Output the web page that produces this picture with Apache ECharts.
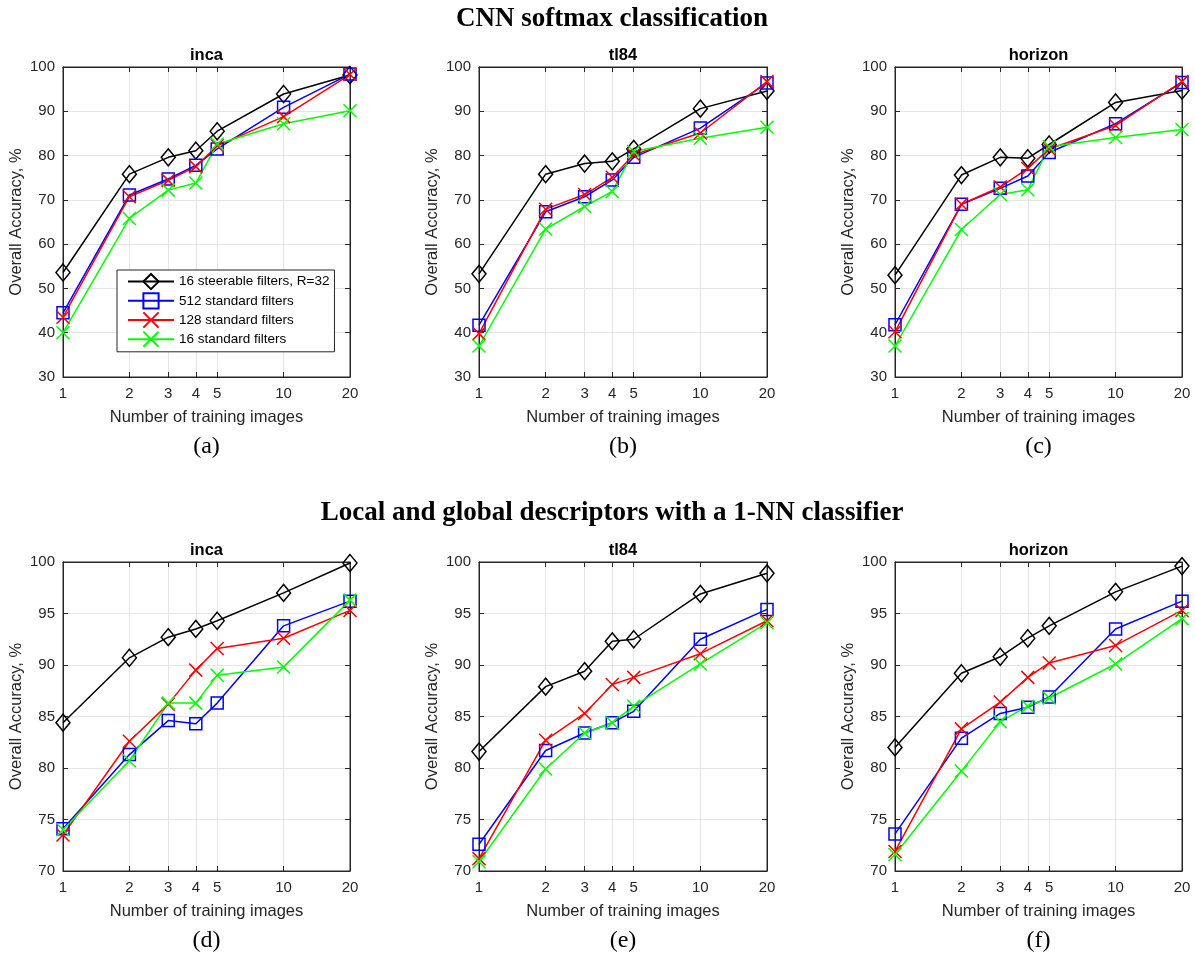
<!DOCTYPE html>
<html>
<head>
<meta charset="utf-8">
<script src="https://cdn.jsdelivr.net/npm/echarts@6/dist/echarts.min.js"></script>
<style>
html,body{margin:0;padding:0;background:#fff}
#main{width:1195px;height:958px}
</style>
</head>
<body>
<div id="main"></div>
<script>
// x axis: number of training images (log scale)
var trainImages = [1, 2, 3, 4, 5, 10, 20];
var seriesNames = ['16 steerable filters, R=32', '512 standard filters', '128 standard filters', '16 standard filters'];
var panelTitles = ['inca', 'tl84', 'horizon', 'inca', 'tl84', 'horizon'];
var panelLetters = ['(a)', '(b)', '(c)', '(d)', '(e)', '(f)'];
var rowTitles = ['CNN softmax classification', 'Local and global descriptors with a 1-NN classifier'];
var topTicks = [30, 100, 10];    // min, max, step
var bottomTicks = [70, 100, 5];

// CNN softmax: [steerable16, std512, std128, std16]
var cnnInca = [
  [53.6, 75.8, 79.6, 81.1, 85.5, 93.9, 98.2],
  [44.5, 71.1, 74.7, 77.8, 81.5, 90.9, 98.4],
  [43.5, 70.7, 74.4, 77.5, 82.2, 88.8, 98.3],
  [40.0, 65.8, 72.2, 73.8, 82.6, 87.2, 90.1]
];
var cnnTl84 = [
  [53.3, 75.8, 78.2, 78.7, 81.5, 90.6, 94.6],
  [41.7, 67.3, 70.7, 74.5, 79.6, 86.2, 96.4],
  [39.8, 67.9, 71.2, 75.1, 80.2, 85.1, 96.7],
  [37.0, 63.4, 68.5, 71.9, 80.9, 83.9, 86.4]
];
var cnnHorizon = [
  [53.0, 75.6, 79.6, 79.4, 82.5, 92.0, 94.7],
  [41.8, 69.0, 72.6, 75.4, 80.7, 87.2, 96.5],
  [40.2, 69.0, 72.9, 77.1, 81.5, 86.8, 96.7],
  [37.0, 63.3, 71.2, 72.3, 82.0, 84.1, 85.9]
];
// 1-NN classifier
var nnInca = [
  [84.4, 90.7, 92.7, 93.5, 94.3, 97.0, 99.9],
  [74.1, 81.3, 84.6, 84.3, 86.3, 93.8, 96.2],
  [73.5, 82.6, 86.2, 89.5, 91.6, 92.6, 95.3],
  [74.0, 80.7, 86.3, 86.3, 89.0, 89.8, 96.3]
];
var nnTl84 = [
  [81.6, 87.9, 89.4, 92.3, 92.5, 96.9, 98.9],
  [72.6, 81.7, 83.4, 84.4, 85.5, 92.5, 95.4],
  [71.2, 82.7, 85.3, 88.1, 88.8, 91.1, 94.3],
  [70.9, 79.9, 83.4, 84.4, 86.0, 90.1, 94.1]
];
var nnHorizon = [
  [82.0, 89.2, 90.8, 92.6, 93.8, 97.1, 99.6],
  [73.6, 82.9, 85.3, 85.9, 86.9, 93.5, 96.2],
  [71.9, 83.8, 86.4, 88.8, 90.2, 91.9, 95.3],
  [71.6, 79.7, 84.5, 86.0, 86.8, 90.1, 94.5]
];

var panels = [cnnInca, cnnTl84, cnnHorizon, nnInca, nnTl84, nnHorizon];
var colors = ['#000000', '#0000ff', '#ff0000', '#00ff00'];
var symbols = ['diamond', 'rect', 'path://M0 0L10 10M10 0L0 10', 'path://M0 0L10 10M10 0L0 10'];
var symbolSizes = [[14, 17], 12, 13, 13];

var lefts = [63, 479, 895];
var widths = [287, 288, 287];
var tops = [67, 562];
var heights = [310, 309];
var axisColor = '#262626';
var gridColor = '#e5e5e5';
var sans = 'Liberation Sans, Arial, Helvetica, sans-serif';
var serif = 'Liberation Serif, Times New Roman, serif';

var grids = [], xAxes = [], yAxes = [], series = [], graphics = [];

for (var p = 0; p < 6; p++) {
  var row = Math.floor(p / 3), col = p % 3;
  var ticks = row == 0 ? topTicks : bottomTicks;
  grids.push({
    left: lefts[col], top: tops[row], width: widths[col], height: heights[row],
    show: true, borderColor: axisColor, borderWidth: 1, backgroundColor: '#fff'
  });
  var xBase = {
    type: 'log', logBase: 10, min: 1, max: 20, gridIndex: p,
    axisLine: {show: true, lineStyle: {color: axisColor, width: 1}},
    axisTick: {show: true, inside: true, length: 5, customValues: trainImages, lineStyle: {color: axisColor}},
    minorTick: {show: false}
  };
  // bottom x axis
  xAxes.push(Object.assign({}, xBase, {
    position: 'bottom',
    name: 'Number of training images', nameLocation: 'middle', nameGap: 32,
    nameTextStyle: {color: axisColor, fontSize: 16.5, fontFamily: sans},
    axisLabel: {customValues: trainImages, color: axisColor, fontSize: 15, fontFamily: sans, margin: 9},
    splitLine: {show: true, lineStyle: {color: gridColor, width: 1}}
  }));
  // top x axis, ticks only
  xAxes.push(Object.assign({}, xBase, {
    position: 'top', axisLabel: {show: false}, splitLine: {show: false}
  }));
  var yBase = {
    type: 'value', min: ticks[0], max: ticks[1], interval: ticks[2], gridIndex: p,
    axisLine: {show: true, lineStyle: {color: axisColor, width: 1}},
    axisTick: {show: true, inside: true, length: 5, lineStyle: {color: axisColor}}
  };
  yAxes.push(Object.assign({}, yBase, {
    position: 'left',
    name: 'Overall Accuracy, %', nameLocation: 'middle', nameGap: 38, nameRotate: 90,
    nameTextStyle: {color: axisColor, fontSize: 16.5, fontFamily: sans},
    axisLabel: {color: axisColor, fontSize: 15, fontFamily: sans, margin: 8},
    splitLine: {show: true, lineStyle: {color: gridColor, width: 1}}
  }));
  yAxes.push(Object.assign({}, yBase, {
    position: 'right', axisLabel: {show: false}, splitLine: {show: false}
  }));

  for (var s = 0; s < 4; s++) {
    series.push({
      name: seriesNames[s], type: 'line',
      xAxisIndex: p * 2, yAxisIndex: p * 2,
      data: trainImages.map(function (x, i) { return [x, panels[p][s][i]]; }),
      symbol: symbols[s], symbolSize: symbolSizes[s],
      lineStyle: {color: colors[s], width: 1.5},
      itemStyle: {color: 'rgba(0,0,0,0)', borderColor: colors[s], borderWidth: 1.5},
      emphasis: {disabled: true}
    });
  }

  // panel title and letter
  var cx = lefts[col] + widths[col] / 2;
  graphics.push({
    type: 'text', x: cx, y: tops[row] - 12,
    style: {text: panelTitles[p], font: 'bold 16.5px ' + sans, fill: '#000', textAlign: 'center', textVerticalAlign: 'middle'}
  });
  graphics.push({
    type: 'text', x: cx, y: tops[row] + heights[row] + 70,
    style: {text: panelLetters[p], font: '24px ' + serif, fill: '#000', textAlign: 'center', textVerticalAlign: 'middle'}
  });
}

graphics.push({
  type: 'text', x: 612, y: 19,
  style: {text: rowTitles[0], font: 'bold 27px ' + serif, fill: '#000', textAlign: 'center', textVerticalAlign: 'middle'}
});
graphics.push({
  type: 'text', x: 612, y: 513,
  style: {text: rowTitles[1], font: 'bold 27px ' + serif, fill: '#000', textAlign: 'center', textVerticalAlign: 'middle'}
});

var myChart = echarts.init(document.getElementById('main'));
var option = {
  animation: false,
  backgroundColor: '#fff',
  grid: grids,
  xAxis: xAxes,
  yAxis: yAxes,
  legend: {
    data: seriesNames,
    orient: 'vertical',
    left: 117, top: 270,
    itemWidth: 46, itemHeight: 19, itemGap: 2,
    padding: [3, 5, 4, 10],
    borderColor: axisColor, borderWidth: 1, backgroundColor: '#fff',
    textStyle: {color: '#000', fontSize: 13.5, fontFamily: sans},
    selectedMode: false
  },
  series: series,
  graphic: graphics
};
myChart.setOption(option);
</script>
</body>
</html>
